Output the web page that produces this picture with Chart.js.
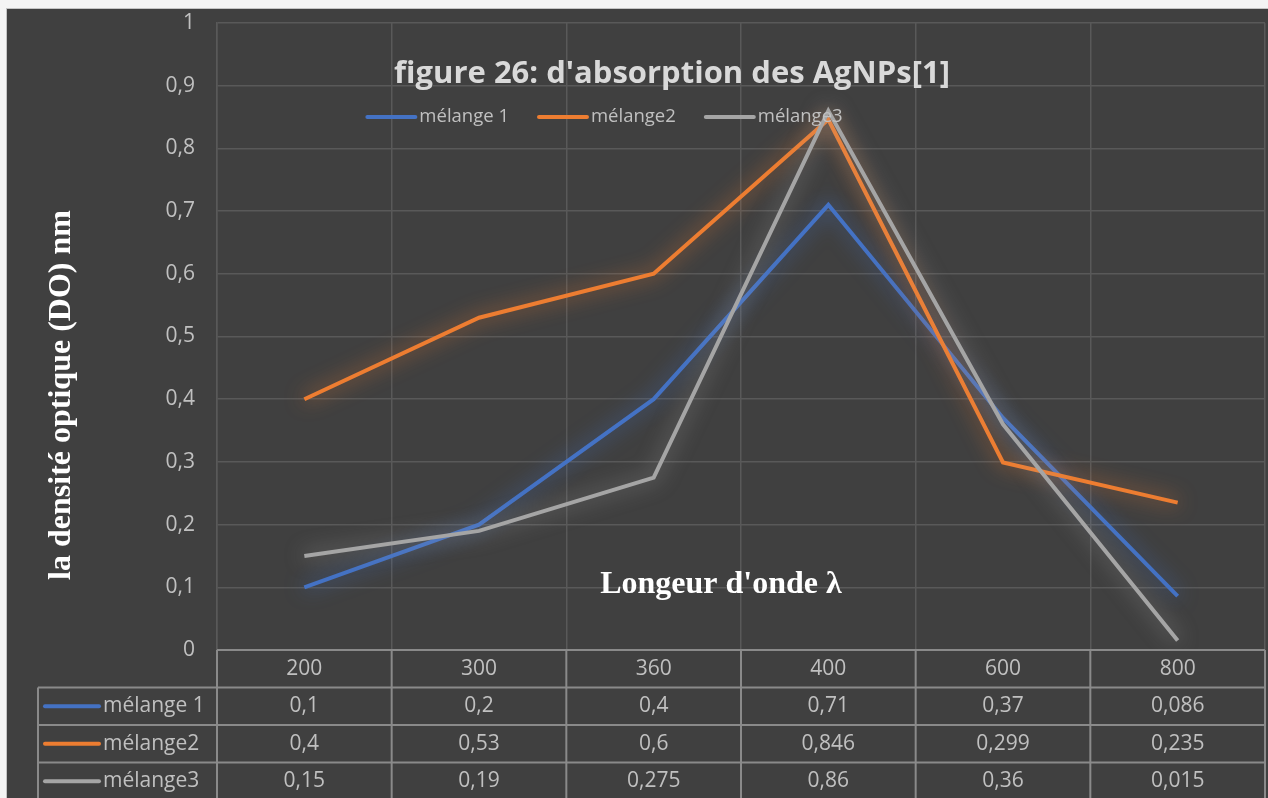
<!DOCTYPE html>
<html>
<head>
<meta charset="utf-8">
<script src="https://cdn.jsdelivr.net/npm/chart.js@4.4.1/dist/chart.umd.min.js"></script>
<style>
  html, body { margin: 0; padding: 0; background: #f4f4f4; overflow: hidden; }
  #wrap {
    position: absolute; left: 6px; top: 8px; width: 1261px; height: 789px;
    background: #404040; border-left: 1px solid #c4c4c4; border-top: 1px solid #c4c4c4;
  }
  canvas { display: block; }
</style>
</head>
<body>
<div id="wrap"><canvas id="chart" width="1261" height="789"></canvas></div>
<script>
const categories = ["200", "300", "360", "400", "600", "800"];
const melange1 = [0.1, 0.2, 0.4, 0.71, 0.37, 0.086];
const melange2 = [0.4, 0.53, 0.6, 0.846, 0.299, 0.235];
const melange3 = [0.15, 0.19, 0.275, 0.86, 0.36, 0.015];
const seriesNames = ["mélange 1", "mélange2", "mélange3"];
const yTickLabels = ["0", "0,1", "0,2", "0,3", "0,4", "0,5", "0,6", "0,7", "0,8", "0,9", "1"];

const colors = ["#4472c4", "#ed7d31", "#a5a5a5"];
const glows = ["rgba(68,114,196,0.85)", "rgba(237,125,49,0.85)", "rgba(175,175,175,0.7)"];
const tickFont = "21px 'Open Sans'";
const tickColor = "#c0c0c0";

const fmt = (v) => String(v).replace(".", ",");

// glow behind each line, like the Excel soft shadow
const glowPlugin = {
  id: "glow",
  beforeDatasetDraw(chart, args) {
    const ctx = chart.ctx;
    ctx.save();
    ctx.shadowColor = glows[args.index];
    ctx.shadowBlur = 20;
    ctx.shadowOffsetX = 0;
    ctx.shadowOffsetY = 0;
  },
  afterDatasetDraw(chart) {
    chart.ctx.restore();
  },
};

// title, legend, axis titles and the data table
const decorPlugin = {
  id: "decor",
  afterDraw(chart) {
    const ctx = chart.ctx;
    const area = chart.chartArea;
    const x = chart.scales.x;
    ctx.save();

    // title
    ctx.fillStyle = "#d9d9d9";
    ctx.font = "bold 31px 'Open Sans'";
    ctx.textAlign = "center";
    ctx.textBaseline = "alphabetic";
    ctx.fillText("figure 26: d'absorption des AgNPs[1]", 665, 74);

    // legend
    ctx.font = "18.5px 'Open Sans'";
    ctx.textBaseline = "middle";
    ctx.textAlign = "left";
    const keyLen = 48, keyGap = 4, itemGap = 30;
    const widths = seriesNames.map((n) => keyLen + keyGap + ctx.measureText(n).width);
    const total = widths.reduce((a, b) => a + b, 0) + itemGap * (widths.length - 1);
    let lx = 598 - total / 2;
    const ly = 108;
    seriesNames.forEach((n, i) => {
      ctx.strokeStyle = colors[i];
      ctx.lineWidth = 4;
      ctx.lineCap = "round";
      ctx.beginPath();
      ctx.moveTo(lx, ly);
      ctx.lineTo(lx + keyLen, ly);
      ctx.stroke();
      ctx.fillStyle = tickColor;
      ctx.fillText(n, lx + keyLen + keyGap, ly);
      lx += widths[i] + itemGap;
    });

    // x axis title (sits inside the plot in the original)
    ctx.fillStyle = "#ffffff";
    ctx.font = "bold 32px 'Liberation Serif'";
    ctx.textAlign = "center";
    ctx.textBaseline = "alphabetic";
    ctx.fillText("Longeur d'onde λ", 714, 584);

    // y axis title
    ctx.save();
    ctx.translate(63, 386);
    ctx.rotate(-Math.PI / 2);
    ctx.fillText("la densité optique (DO) nm", 0, 0);
    ctx.restore();

    // data table
    const step = x.getPixelForValue(1) - x.getPixelForValue(0);
    const rowH = 37.5;
    const top = area.bottom;
    const tableLeft = 31;
    ctx.strokeStyle = "#8a8a8a";
    ctx.lineWidth = 2;
    ctx.lineCap = "butt";
    ctx.beginPath();
    ctx.moveTo(area.left, top); ctx.lineTo(area.right, top);
    for (let r = 1; r <= 4; r++) {
      ctx.moveTo(tableLeft, top + rowH * r); ctx.lineTo(area.right, top + rowH * r);
    }
    ctx.moveTo(tableLeft, top + rowH); ctx.lineTo(tableLeft, top + rowH * 4);
    ctx.moveTo(area.left, top); ctx.lineTo(area.left, top + rowH * 4);
    categories.forEach((c, i) => {
      const bx = x.getPixelForValue(i) + step / 2;
      ctx.moveTo(bx, top); ctx.lineTo(bx, top + rowH * 4);
    });
    ctx.stroke();

    ctx.font = tickFont;
    ctx.fillStyle = tickColor;
    ctx.textAlign = "center";
    ctx.textBaseline = "middle";
    categories.forEach((c, i) => {
      ctx.fillText(c, x.getPixelForValue(i), top + rowH / 2);
    });
    chart.data.datasets.forEach((ds, r) => {
      const cy = top + rowH * (r + 1) + rowH / 2;
      ds.data.forEach((v, i) => {
        ctx.textAlign = "center";
        ctx.fillStyle = tickColor;
        ctx.fillText(fmt(v), x.getPixelForValue(i), cy);
      });
      ctx.strokeStyle = colors[r];
      ctx.lineWidth = 4;
      ctx.lineCap = "round";
      ctx.beginPath();
      ctx.moveTo(38, cy);
      ctx.lineTo(92, cy);
      ctx.stroke();
      ctx.textAlign = "left";
      ctx.fillText(ds.label, 96, cy);
    });

    ctx.restore();
  },
};

const series = [melange1, melange2, melange3];

new Chart(document.getElementById("chart"), {
  type: "line",
  data: {
    labels: categories,
    datasets: series.map((d, i) => ({
      label: seriesNames[i],
      data: d,
      borderColor: colors[i],
      borderWidth: 4,
      pointRadius: 0,
      tension: 0,
      order: 2 - i,
    })),
  },
  options: {
    responsive: false,
    animation: false,
    layout: { padding: { left: 0, top: 14, right: 3, bottom: 148 } },
    plugins: {
      legend: { display: false },
      title: { display: false },
      tooltip: { enabled: false },
    },
    scales: {
      x: {
        offset: true,
        grid: { offset: true, color: "#595959", lineWidth: 1.5, drawTicks: false },
        border: { color: "#595959", width: 1.5 },
        ticks: { display: false },
      },
      y: {
        min: 0,
        max: 1,
        afterFit(scale) {
          scale.width = 210;
          scale.paddingTop = 0;
          scale.paddingBottom = 0;
        },
        grid: { color: "#595959", lineWidth: 1.5, drawTicks: false },
        border: { color: "#595959", width: 1.5 },
        ticks: {
          stepSize: 0.1,
          padding: 22,
          color: tickColor,
          font: { family: "'Open Sans'", size: 21 },
          callback: (v, i) => yTickLabels[i],
        },
      },
    },
  },
  plugins: [glowPlugin, decorPlugin],
});
</script>
</body>
</html>
